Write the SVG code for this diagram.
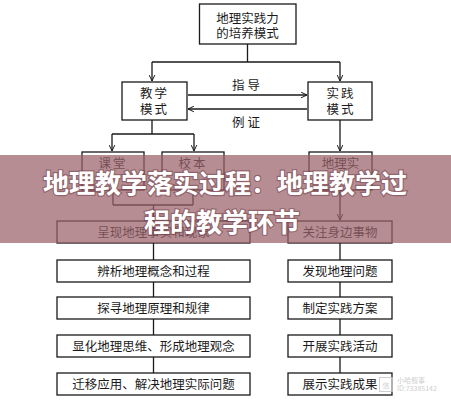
<svg xmlns="http://www.w3.org/2000/svg" width="451" height="400" viewBox="0 0 451 400">
<defs>
<marker id="arr" viewBox="0 0 10 10" refX="9.5" refY="5" markerWidth="7" markerHeight="7" orient="auto" markerUnits="userSpaceOnUse">
<path d="M1,1 L9.5,5 L1,9" fill="none" stroke="#1a1a1a" stroke-width="1.4"/>
</marker>
<style>
.box{fill:#fff;stroke:#1a1a1a;stroke-width:1.3}
.t{font-family:"Noto Sans CJK SC","Noto Sans CJK JP",sans-serif;font-size:12.5px;fill:#1a1a1a;text-anchor:middle}
.ln{fill:none;stroke:#1a1a1a;stroke-width:1.3}
.title{font-family:"Noto Sans CJK SC","Noto Sans CJK JP",sans-serif;font-size:26px;font-weight:bold;fill:#fff;text-anchor:middle;stroke:#6e3c46;stroke-width:2.4;stroke-opacity:0.5;paint-order:stroke}
.wm{font-family:"Noto Sans CJK SC",sans-serif;font-size:7px;fill:#c4c4c4}
</style>
</defs>
<rect width="451" height="400" fill="#fff"/>

<g id="connectors">
<path class="ln" d="M247.5,44 V62 M152,62 H340"/>
<path class="ln" d="M152,62 V81" marker-end="url(#arr)"/>
<path class="ln" d="M340,62 V81" marker-end="url(#arr)"/>
<path class="ln" d="M188,95 H307" marker-end="url(#arr)"/>
<path class="ln" d="M307,109 H188" marker-end="url(#arr)"/>
<path class="ln" d="M152,120 V134 M112,134 H194"/>
<path class="ln" d="M112,134 V151" marker-end="url(#arr)"/>
<path class="ln" d="M194,134 V151" marker-end="url(#arr)"/>
<path class="ln" d="M340,120 V151" marker-end="url(#arr)"/>
<path class="ln" d="M113,190 V205 M193,190 V205 M113,205 H193"/>
<path class="ln" d="M153.5,205 V220" marker-end="url(#arr)"/>
<path class="ln" d="M340,190 V220" marker-end="url(#arr)"/>
<path class="ln" d="M153.5,243 V260 M153.5,282 V297 M153.5,319 V335 M153.5,357 V373"/>
<path class="ln" d="M340,243 V260 M340,282 V297 M340,319 V335 M340,357 V373"/>
</g>

<g id="label-zhidao"><text class="t" x="246" y="89.5">指 导</text></g>
<g id="label-lizheng"><text class="t" x="246" y="126.5">例 证</text></g>

<g id="n-top">
<rect class="box" x="199.5" y="4" width="96.5" height="40"/>
<text class="t" x="247.5" y="22.5">地理实践力</text>
<text class="t" x="247.5" y="37.5">的培养模式</text>
</g>
<g id="n-jiaoxue">
<rect class="box" x="122" y="82" width="65" height="38"/>
<text class="t" x="154.5" y="97.5" letter-spacing="2">教学</text>
<text class="t" x="154.5" y="113.5" letter-spacing="2">模式</text>
</g>
<g id="n-shijian">
<rect class="box" x="308" y="82" width="64" height="38"/>
<text class="t" x="341" y="97.5" letter-spacing="2">实践</text>
<text class="t" x="341" y="113.5" letter-spacing="2">模式</text>
</g>
<g id="n-ketang">
<rect class="box" x="82" y="152" width="62" height="38"/>
<text class="t" x="113" y="167.5" letter-spacing="2">课堂</text>
</g>
<g id="n-xiaoben">
<rect class="box" x="162" y="152" width="62" height="38"/>
<text class="t" x="193" y="167.5" letter-spacing="2">校本</text>
</g>
<g id="n-dilishijian">
<rect class="box" x="309" y="152" width="63" height="38"/>
<text class="t" x="340.5" y="167.5">地理实</text>
</g>

<g id="n-l1"><rect class="box" x="57" y="221" width="193" height="22"/><text class="t" x="153.5" y="236.5">呈现地理事实和现象</text></g>
<g id="n-l2"><rect class="box" x="57" y="260" width="193" height="22"/><text class="t" x="153.5" y="275.5">辨析地理概念和过程</text></g>
<g id="n-l3"><rect class="box" x="57" y="297" width="193" height="22"/><text class="t" x="153.5" y="312.5">探寻地理原理和规律</text></g>
<g id="n-l4"><rect class="box" x="57" y="335" width="193" height="22"/><text class="t" x="153.5" y="350.5">显化地理思维、形成地理观念</text></g>
<g id="n-l5"><rect class="box" x="57" y="373" width="193" height="22"/><text class="t" x="153.5" y="388.5">迁移应用、解决地理实际问题</text></g>

<g id="n-r1"><rect class="box" x="288" y="221" width="104" height="22"/><text class="t" x="340" y="236.5">关注身边事物</text></g>
<g id="n-r2"><rect class="box" x="288" y="260" width="104" height="22"/><text class="t" x="340" y="275.5">发现地理问题</text></g>
<g id="n-r3"><rect class="box" x="288" y="297" width="104" height="22"/><text class="t" x="340" y="312.5">制定实践方案</text></g>
<g id="n-r4"><rect class="box" x="288" y="335" width="104" height="22"/><text class="t" x="340" y="350.5">开展实践活动</text></g>
<g id="n-r5"><rect class="box" x="288" y="373" width="104" height="22"/><text class="t" x="340" y="388.5">展示实践成果</text></g>

<g id="watermark" opacity="0.8">
<rect x="379.5" y="377.5" width="13" height="14" fill="#fff" fill-opacity="0.6" stroke="#c4c4c4" stroke-width="1"/>
<text class="wm" x="386" y="387.5" text-anchor="middle" font-size="8">信</text>
<text class="wm" x="397" y="383">小哈叙事</text>
<text class="wm" x="397" y="391">ID:73385142</text>
</g>

<g id="overlay">
<rect x="0" y="155" width="451" height="88" fill="#98616a" fill-opacity="0.72"/>
<text class="title" x="225" y="192.5">地理教学落实过程：地理教学过</text>
<text class="title" x="222" y="231.5">程的教学环节</text>
</g>
</svg>
